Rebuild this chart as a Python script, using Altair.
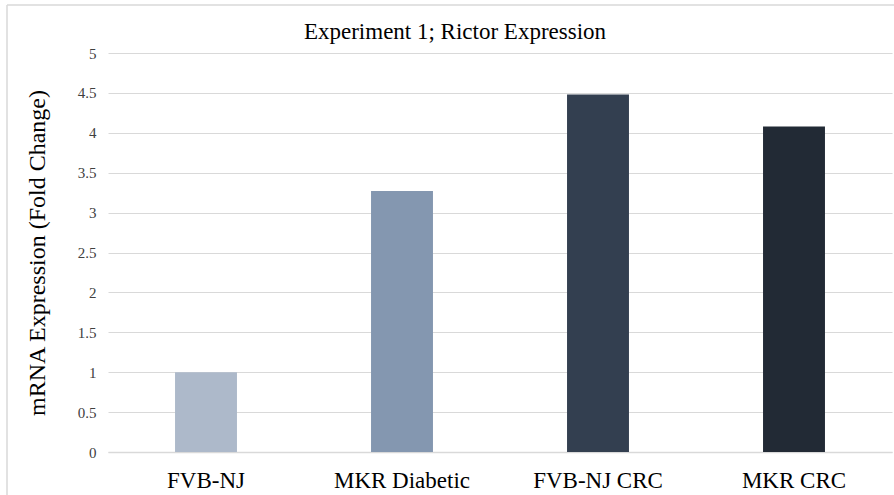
import altair as alt
import pandas as pd

categories = ["FVB-NJ", "MKR Diabetic", "FVB-NJ CRC", "MKR CRC"]
values = [1.0, 3.27, 4.48, 4.08]
colors = ["#ADB9CA", "#8497B0", "#333F50", "#222A35"]
chart_title = ["Experiment 1; Rictor Expression"]

df = pd.DataFrame({"group": categories, "value": values})
title_df = pd.DataFrame({"t": chart_title})

FONT = "Liberation Serif"

bars = alt.Chart(df).mark_bar(width=alt.RelativeBandSize(0.316)).encode(
    x=alt.X("group:N", sort=categories,
            scale=alt.Scale(paddingInner=0, paddingOuter=0),
            axis=alt.Axis(title=None, labelAngle=0, ticks=False, domain=True,
                          domainColor="#D9D9D9", domainWidth=1.5,
                          labelFont=FONT, labelFontSize=23, labelColor="#000000",
                          labelBaseline="alphabetic", labelPadding=35, grid=False)),
    y=alt.Y("value:Q", scale=alt.Scale(domain=[0, 5], nice=False),
            axis=alt.Axis(title="mRNA Expression (Fold Change)", values=[0, 0.5, 1, 1.5, 2, 2.5, 3, 3.5, 4, 4.5, 5],
                          format="~g",
                          ticks=False, domain=False, gridColor="#D9D9D9", gridWidth=1,
                          labelFont=FONT, labelFontSize=15, labelColor="#404040",
                          labelPadding=12,
                          titleFont=FONT, titleFontSize=24, titleFontWeight="normal",
                          titleColor="#000000", titleX=-64, titleY=199.5,
                          titleAngle=-90, titleAlign="center", titleBaseline="alphabetic")),
    color=alt.Color("group:N", sort=categories,
                    scale=alt.Scale(domain=categories, range=colors), legend=None),
)

border = alt.Chart(title_df).mark_rule(color="#D9D9D9", strokeWidth=1.5).encode(
    x=alt.value(-101), x2=alt.value(-101), y=alt.value(-48), y2=alt.value(442)
)
border_top = alt.Chart(title_df).mark_rule(color="#D9D9D9", strokeWidth=1.5).encode(
    x=alt.value(-101), x2=alt.value(786), y=alt.value(-48), y2=alt.value(-48)
)
title = alt.Chart(title_df).mark_text(font=FONT, fontSize=23, color="#000000",
                                      align="center", baseline="alphabetic").encode(
    text="t:N", x=alt.value(347), y=alt.value(-14)
)

chart = alt.layer(border, border_top, bars, title).properties(
    width=784, height=399,
    autosize=alt.AutoSizeParams(type="none"),
    padding={"left": 108, "top": 53, "right": 2, "bottom": 43},
).configure_view(stroke=None)

chart.save("out.html", embed_options={"renderer": "svg", "actions": False})
